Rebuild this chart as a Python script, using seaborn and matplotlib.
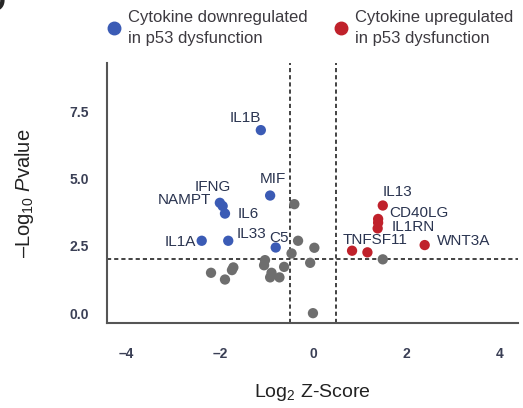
import numpy as np
import pandas as pd
import matplotlib
matplotlib.use("Agg")
import matplotlib.pyplot as plt
from matplotlib.lines import Line2D
import seaborn as sns

# cytokine volcano data
down_genes = ["IL1B", "MIF", "IFNG", "NAMPT", "IL6", "IL33", "C5", "IL1A"]
down_x = [-1.12, -0.92, -1.94, -2.00, -1.89, -1.82, -0.80, -2.39]
down_y = [6.80, 4.37, 3.98, 4.10, 3.70, 2.69, 2.44, 2.69]

up_genes = ["IL13", "CD40LG", "", "IL1RN", "TNFSF11", "", "WNT3A"]
up_x = [1.50, 1.40, 1.40, 1.39, 0.84, 1.17, 2.40]
up_y = [4.00, 3.50, 3.36, 3.15, 2.32, 2.26, 2.53]

ns_x = [-0.40, -0.32, 0.03, -0.46, -0.06, -0.62, -1.03, -1.05, -0.89,
        -0.92, -0.72, -1.71, -1.74, -2.19, -1.89, 0.00, 1.50]
ns_y = [4.05, 2.69, 2.43, 2.22, 1.87, 1.72, 1.97, 1.78, 1.50,
        1.33, 1.33, 1.70, 1.60, 1.50, 1.25, 0.00, 2.00]

z_cut = 0.5
p_cut = 2.0

# label offsets in points (layout only)
offsets = {
    "IL1B": (0, 9, "right"), "MIF": (2, 12, "center"), "IFNG": (-7, 14, "center"),
    "NAMPT": (-6, 2, "right"), "IL6": (9, 0, "left"), "IL33": (6, 5, "left"),
    "C5": (-5, 7, "left"), "IL1A": (-4, -1, "right"),
    "IL13": (0, 10, "left"), "CD40LG": (8, 4, "left"), "IL1RN": (10, 1, "left"),
    "TNFSF11": (-7, 8, "left"), "WNT3A": (9, 3, "left"),
}

df = pd.concat([
    pd.DataFrame({"z": ns_x, "p": ns_y, "grp": "ns", "gene": ""}),
    pd.DataFrame({"z": down_x, "p": down_y, "grp": "down", "gene": down_genes}),
    pd.DataFrame({"z": up_x, "p": up_y, "grp": "up", "gene": up_genes}),
], ignore_index=True)

blue = "#3b5bb5"
red = "#c0212b"
gray = "#6e6e6e"
txt = "#2a3450"
axc = "#555555"

sns.set_style("white")
plt.rcParams["font.family"] = ["Liberation Sans", "DejaVu Sans"]
plt.rcParams["mathtext.fontset"] = "custom"
plt.rcParams["mathtext.rm"] = "Liberation Sans"
plt.rcParams["mathtext.it"] = "Liberation Sans:italic"

fig = plt.figure(figsize=(5.23, 4.08), dpi=100)
ax = fig.add_axes([0.205, 0.208, 0.785, 0.638])

sns.scatterplot(data=df, x="z", y="p", hue="grp",
                palette={"ns": gray, "down": blue, "up": red},
                s=55, linewidth=0, legend=False, ax=ax, zorder=3)

ax.axvline(-z_cut, color="#222222", ls=(0, (2.5, 1.8)), lw=1.2, zorder=1)
ax.axvline(z_cut, color="#222222", ls=(0, (2.5, 1.8)), lw=1.2, zorder=1)
ax.axhline(p_cut, color="#222222", ls=(0, (2.5, 1.8)), lw=1.2, zorder=1)

for _, r in df[df.gene != ""].iterrows():
    dx, dy, ha = offsets[r.gene]
    ax.annotate(r.gene, (r.z, r.p), xytext=(dx, dy), textcoords="offset points",
                ha=ha, va="center", fontsize=11, color=txt, zorder=4)

ax.set_xlim(-4.42, 4.4)
ax.set_ylim(-0.37, 9.3)
ax.set_xticks([-4, -2, 0, 2, 4])
ax.set_xticklabels(["\u20134", "\u20132", "0", "2", "4"], fontweight="bold")
ax.set_yticks([0, 2.5, 5, 7.5])
ax.set_yticklabels(["0.0", "2.5", "5.0", "7.5"], fontweight="bold")
ax.tick_params(axis="both", length=4, width=1.2, color=axc, labelsize=10,
               labelcolor="#3a3f55")
ax.tick_params(axis="x", pad=13)
ax.tick_params(axis="y", pad=9)
sns.despine(ax=ax)
for sp in ["left", "bottom"]:
    ax.spines[sp].set_color(axc)
    ax.spines[sp].set_linewidth(1.5)

ax.set_xlabel("Log$_2$ Z-Score", fontsize=14, color="#222222", labelpad=15)
ax.set_ylabel("\u2013Log$_{10}$ $P$value", fontsize=14.5, color="#222222", labelpad=24)

handles = [
    Line2D([], [], marker="o", ls="", color=blue, markersize=9),
    Line2D([], [], marker="o", ls="", color=red, markersize=9),
]
leg = fig.legend(handles, ["Cytokine downregulated\nin p53 dysfunction",
                           "Cytokine upregulated\nin p53 dysfunction"],
                 loc="upper left", bbox_to_anchor=(0.17, 1.012), ncol=2, frameon=False,
                 fontsize=12, labelcolor="#3d3a40", handletextpad=0.25,
                 columnspacing=1.4, labelspacing=0.2, handlelength=1.2)
for t in leg.get_texts():
    t.set_linespacing(1.45)

fig.text(-0.03, 1.03, "D", fontsize=22, fontweight="bold", va="top", ha="left")

fig.savefig("out.png", dpi=100)
